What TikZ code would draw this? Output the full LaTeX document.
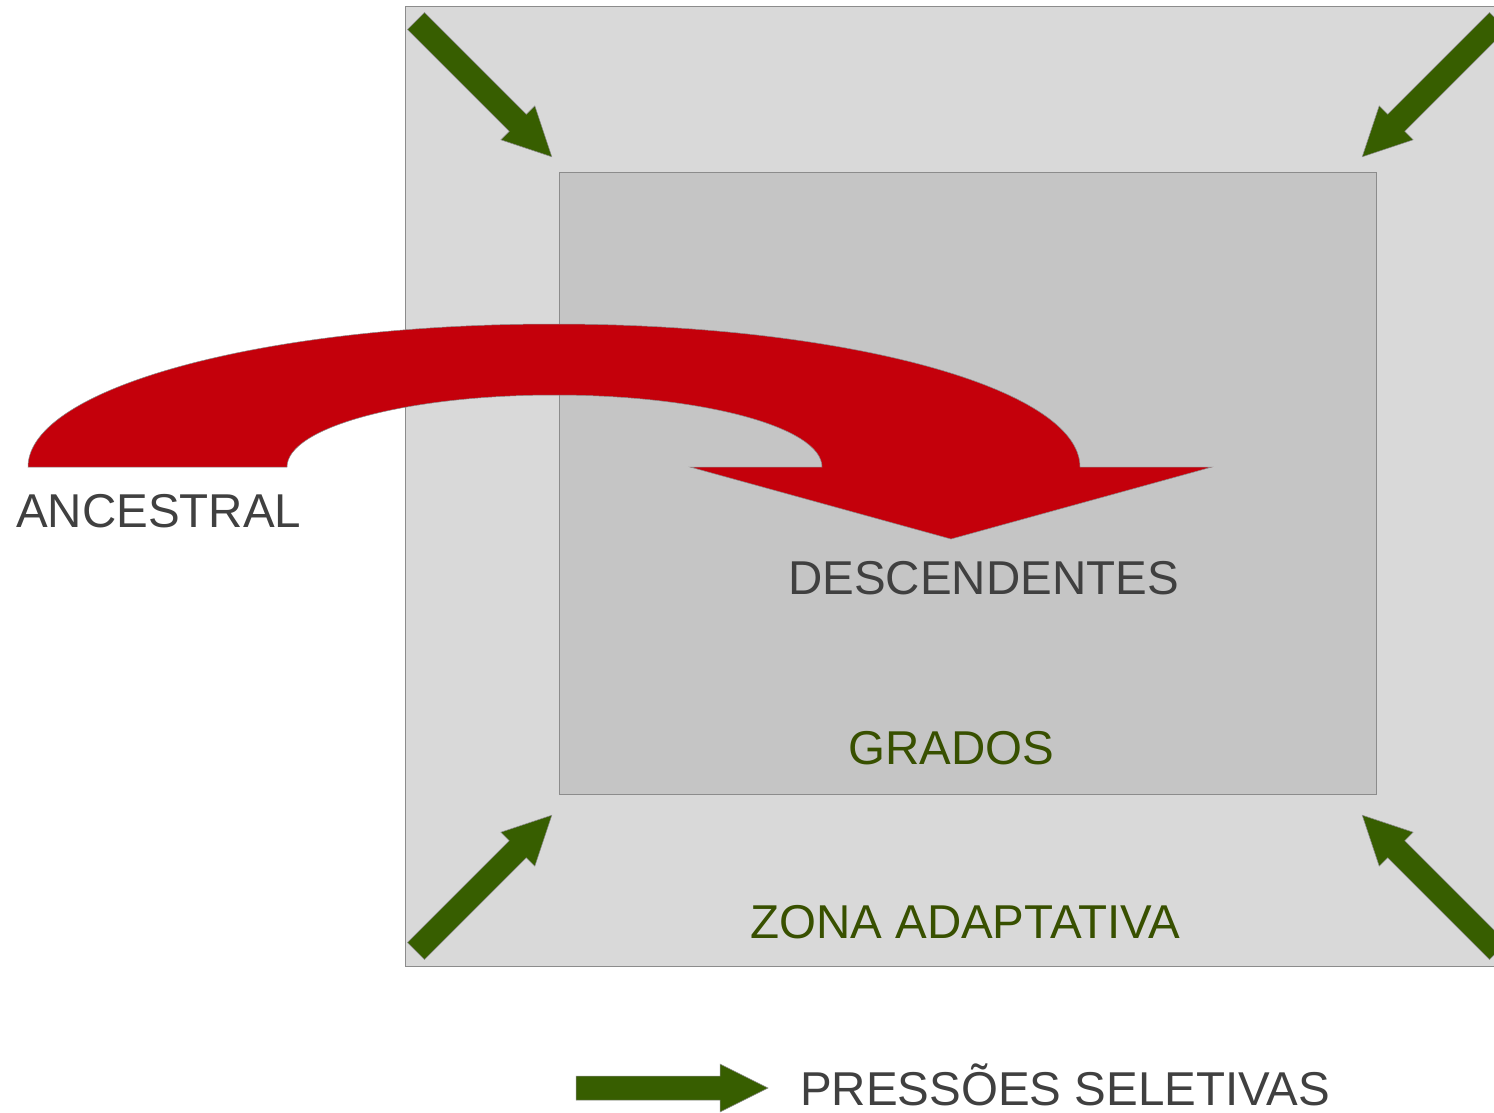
\documentclass[tikz,border=0pt]{standalone}
\usepackage{fontspec}
\setmainfont{Liberation Sans}
\definecolor{outerfill}{RGB}{217,217,217}
\definecolor{innerfill}{RGB}{197,197,197}
\definecolor{rimgray}{RGB}{140,140,140}
\definecolor{arrowgreen}{RGB}{55,94,0}
\definecolor{textgreen}{RGB}{56,80,0}
\definecolor{textgray}{RGB}{64,64,64}
\definecolor{arrowred}{RGB}{196,0,11}
\tikzset{
  zonebox/.style={fill=outerfill, draw=rimgray, line width=1pt},
  gradebox/.style={fill=innerfill, draw=rimgray, line width=1pt},
  blockarrow/.style={fill=arrowgreen, draw=rimgray, line width=0.5pt, line join=miter},
  bigarrow/.style={fill=arrowred, draw=rimgray, line width=0.5pt, line join=miter},
  label/.style={anchor=base west, inner sep=0pt, font=\fontsize{47.5}{57}\selectfont},
  pics/pressure/.style={code={
    \path[blockarrow] (0,-12) -- (144,-12) -- (144,-24) -- (192,0) -- (144,24) -- (144,12) -- (0,12) -- cycle;
  }}
}
\begin{document}
\begin{tikzpicture}[x=1pt,y=-1pt]
\useasboundingbox (0,0) rectangle (1494,1112);
% adaptive zone and grade
\path[zonebox] (405,6) rectangle (1500,966);
\path[gradebox] (559,172) rectangle (1376,794);
% selective pressures
\pic[shift={(416,21)}, rotate=-45] {pressure};
\pic[shift={(1498,21)}, rotate=-135] {pressure};
\pic[shift={(416,951)}, rotate=45] {pressure};
\pic[shift={(1498,951)}, rotate=135] {pressure};
% ancestral -> descendants
\path[bigarrow] (28,467) arc[start angle=180, end angle=360, x radius=526, y radius=143]
  -- (1212,467) -- (951,539) -- (690,467) -- (822,467)
  arc[start angle=0, end angle=-180, x radius=267.5, y radius=72] -- cycle;
% legend arrow
\pic[shift={(576,1088)}] {pressure};
% labels
\node[label, text=textgray] (anc) at (16,527) {ANCESTRAL};
\node[label, text=textgray] (desc) at (788,594) {DESCENDENTES};
\node[label, text=textgreen] (grados) at (848,764) {GRADOS};
\node[label, text=textgreen] (zona) at (750,938) {ZONA ADAPTATIVA};
\node[label, text=textgray] (press) at (800,1105) {PRESSÕES SELETIVAS};
\end{tikzpicture}
\end{document}
